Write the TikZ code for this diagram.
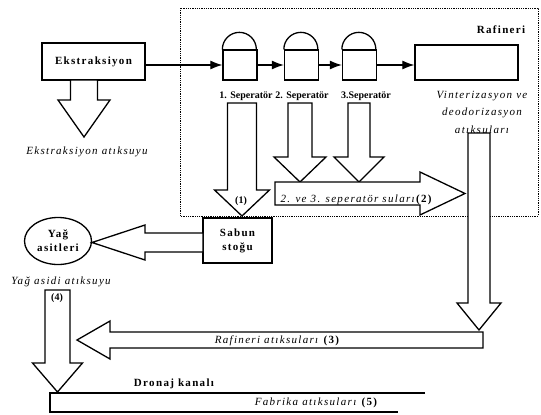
\documentclass[tikz,border=0pt]{standalone}
\usepackage{fontspec}
\setmainfont{Liberation Serif}
\newfontfamily\spacedfont{Liberation Serif}[LetterSpace=12]
\usetikzlibrary{shapes.geometric,arrows.meta}

% hollow block arrows: centre, tail, head start, tip, shaft half width, head half width
\newcommand{\hollowdown}[6]{%
  \draw[hollow] (#1-#5,#2) -- (#1+#5,#2) -- (#1+#5,#3) -- (#1+#6,#3) -- (#1,#4)
    -- (#1-#6,#3) -- (#1-#5,#3) -- cycle;}
\newcommand{\hollowside}[6]{%
  \draw[hollow] (#2,#1-#5) -- (#3,#1-#5) -- (#3,#1-#6) -- (#4,#1)
    -- (#3,#1+#6) -- (#3,#1+#5) -- (#2,#1+#5) -- cycle;}

\begin{document}
\begin{tikzpicture}[x=1pt,y=-1pt,
  hollow/.style={draw,line width=1.3pt,fill=white,line join=miter},
  box/.style={draw,line width=1.3pt,inner sep=0pt,fill=white},
  flow/.style={line width=1.1pt,-{Latex[length=12pt,width=9pt]}},
  title/.style={font=\spacedfont\bfseries\fontsize{11}{14}\selectfont,align=center},
  seplabel/.style={font=\bfseries\fontsize{10}{12}\selectfont},
  waste/.style={font=\spacedfont\itshape\fontsize{11}{17.5}\selectfont,align=center}]
\useasboundingbox (0,0) rectangle (541,415);

% refinery frame
\draw[densely dotted,line width=0.8pt] (180,8) rectangle (538,216);
\node[title] (raf) at (501,30) {Rafineri};

% process units
\node[box,title,minimum width=103pt,minimum height=37pt] (ekstr) at (93.5,61.5) {Ekstraksiyon};
\foreach \name/\x in {s1/240,s2/301.5,s3/359.5}{
  \node[box,minimum width=34pt,minimum height=30pt] (\name) at (\x,65) {};
  \draw[line width=1.3pt] (\name.north west) arc[start angle=180,end angle=0,radius=17pt];
}
\node[box,minimum width=103pt,minimum height=35pt] (vint) at (466.5,62.5) {};

\draw[flow] (ekstr.east |- s1) -- (s1.west);
\draw[flow] (s1.east) -- (s2.west);
\draw[flow] (s2.east) -- (s3.west);
\draw[flow] (s3.east) -- (vint.west |- s3);

\node[seplabel] (l1) at (246,96) {1. Seperatör};
\node[seplabel] (l2) at (302,96) {2. Seperatör};
\node[seplabel] (l3) at (366,96) {3.Seperatör};
\node[waste] (lv) at (482,112) {Vinterizasyon ve\\deodorizasyon\\atıksuları};

% waste streams
\hollowdown{84}{80}{100}{137}{13.5}{26}
\node[waste] (lek) at (87,152) {Ekstraksiyon atıksuyu};

\hollowdown{242}{103}{190}{216}{14.5}{27.5}
\node[seplabel] (n1) at (241,201) {(1)};
\hollowdown{300}{103}{157}{182}{12}{26}
\hollowdown{359}{103}{157}{182}{11}{25}
\hollowside{193.5}{275}{420}{465}{11.5}{21.5}
\node[waste,anchor=base west] (l2w) at (277,202) {2. ve 3. seperatör suları\textup{\bfseries(2)}};

\hollowdown{479}{133}{303}{330}{11}{22}
\hollowside{340}{483}{110}{77}{8}{19}
\node[waste] (lraf) at (277,341) {Rafineri atıksuları \textup{\bfseries(3)}};

\node[box,title,minimum width=69pt,minimum height=45pt] (sabun) at (237.5,240.5) {Sabun\\stoğu};
\node[draw,ellipse,line width=1.3pt,title,minimum width=67pt,minimum height=47pt,inner sep=0pt] (yag) at (58,241) {Yağ\\asitleri};
\hollowside{242.5}{203}{145}{92}{9.5}{17.5}
\node[waste] (lyag) at (61,282) {Yağ asidi atıksuyu};

\hollowdown{57.5}{290}{363}{392}{12.5}{25}
\node[seplabel] (n4) at (57,298) {(4)};

% drainage channel
\draw[line width=1.6pt] (425,393) -- (50,393) -- (50,412) -- (398,412);
\node[title] (dren) at (174,384) {Dronaj kanalı};
\node[waste] (lfab) at (316,403) {Fabrika atıksuları \textup{\bfseries(5)}};
\end{tikzpicture}
\end{document}
